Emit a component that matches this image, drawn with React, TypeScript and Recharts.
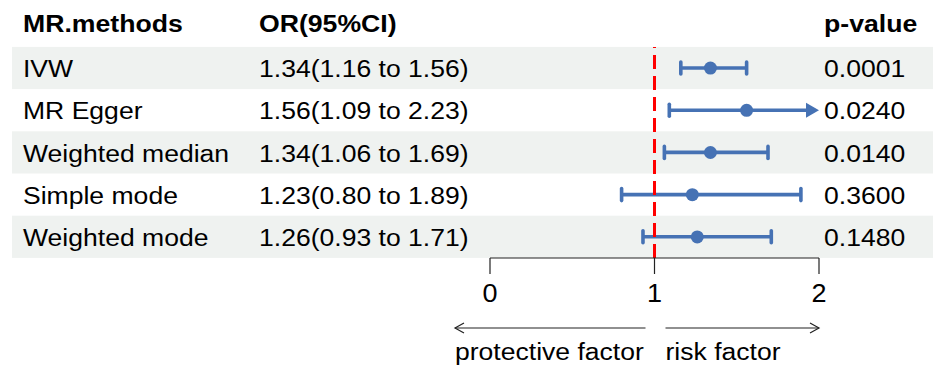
import React from 'react';
import { ComposedChart, XAxis, YAxis, Bar, Line, ReferenceLine } from 'recharts';

const methods = ['IVW', 'MR Egger', 'Weighted median', 'Simple mode', 'Weighted mode'];
const orValues = [1.34, 1.56, 1.34, 1.23, 1.26];
const lowerValues = [1.16, 1.09, 1.06, 0.8, 0.93];
const upperValues = [1.56, 2.23, 1.69, 1.89, 1.71];
const pValues = ['0.0001', '0.0240', '0.0140', '0.3600', '0.1480'];
const axisTicks = [0, 1, 2];
const headers = ['MR.methods', 'OR(95%CI)', 'p-value'];
const legendLabels = ['protective factor', 'risk factor'];

const AXIS_MIN = 0;
const AXIS_MAX = 2;
const W = 933;
const H = 366;
const M_TOP = 47;
const M_BOTTOM = 48;
const X_AXIS_H = 60;
const BAND = (H - M_TOP - M_BOTTOM - X_AXIS_H) / methods.length;
const BLUE = '#4672b4';
const SHADE = '#eff2f0';
const FONT = "'Liberation Sans', Arial, Helvetica, sans-serif";

const data = methods.map((m, i) => ({
  method: m,
  or: orValues[i],
  lower: lowerValues[i],
  upper: upperValues[i],
  ci: `${orValues[i].toFixed(2)}(${lowerValues[i].toFixed(2)} to ${upperValues[i].toFixed(2)})`,
  p: pValues[i],
}));

function SText({ x, y, children, size = 23.5, sx = 1.13, bold = false, anchor = 'start' }: any) {
  return (
    <text
      transform={`translate(${x},${y}) scale(${sx},1)`}
      x={0}
      y={0}
      fontSize={size}
      fontFamily={FONT}
      fontWeight={bold ? 'bold' : 'normal'}
      textAnchor={anchor}
      fill="#000"
    >
      {children}
    </text>
  );
}

const COL_X = [23, 259, 824];

function RowTick(props: any) {
  const { y, payload } = props;
  const i = methods.indexOf(payload.value);
  if (i < 0) return null;
  const d = data[i];
  const top = y - BAND / 2;
  return (
    <g>
      {i === 0 &&
        headers.map((h, k) => (
          <SText key={h} x={COL_X[k]} y={top - 15} size={24} sx={1.11} bold>
            {h}
          </SText>
        ))}
      <SText x={COL_X[0]} y={y + 9}>{d.method}</SText>
      <SText x={COL_X[1]} y={y + 9}>{d.ci}</SText>
      <SText x={COL_X[2]} y={y + 9}>{d.p}</SText>
    </g>
  );
}

function RowBackground(props: any) {
  const { y, height, index } = props;
  if (index % 2 !== 0) return <g key={`bg-${index}`} />;
  const cy = y + height / 2;
  return <rect key={`bg-${index}`} x={12} y={cy - BAND / 2} width={W - 12} height={BAND} fill={SHADE} />;
}

function XTick(props: any) {
  const { x, y, payload } = props;
  return (
    <SText x={x} y={y + 26} size={25} sx={1.08} anchor="middle">
      {payload.value}
    </SText>
  );
}

function LegendLabel(props: any) {
  const vb = props.viewBox || {};
  const x0 = vb.x;
  const x1 = vb.x + vb.width;
  const mid = (x0 + x1) / 2;
  const ay = vb.y + 70;
  const ty = vb.y + 102;
  const lx1 = x0 - 35;
  const lx2 = mid - 9;
  const rx1 = mid + 11;
  const rx2 = x1;
  const st = { stroke: '#222', strokeWidth: 1.2, fill: 'none' };
  return (
    <g>
      <line x1={lx1} y1={ay} x2={lx2} y2={ay} {...st} />
      <polyline points={`${lx1 + 9},${ay - 5} ${lx1},${ay} ${lx1 + 9},${ay + 5}`} {...st} />
      <line x1={rx1} y1={ay} x2={rx2} y2={ay} {...st} />
      <polyline points={`${rx2 - 9},${ay - 5} ${rx2},${ay} ${rx2 - 9},${ay + 5}`} {...st} />
      <SText x={lx1} y={ty}>{legendLabels[0]}</SText>
      <SText x={rx1} y={ty}>{legendLabels[1]}</SText>
    </g>
  );
}

function CIShape(props: any) {
  const { x, y, width, height, payload } = props;
  if (x == null || width == null) return null;
  const cy = y + height / 2;
  const xr = x + width;
  const truncated = payload.upper > AXIS_MAX;
  const sw = 3.6;
  return (
    <g>
      <line x1={x} y1={cy} x2={truncated ? xr - 10 : xr} y2={cy} stroke={BLUE} strokeWidth={sw} />
      <line x1={x} y1={y} x2={x} y2={y + height} stroke={BLUE} strokeWidth={sw} strokeLinecap="round" />
      {truncated ? (
        <polygon points={`${xr - 13},${cy - 7.5} ${xr},${cy} ${xr - 13},${cy + 7.5}`} fill={BLUE} />
      ) : (
        <line x1={xr} y1={y} x2={xr} y2={y + height} stroke={BLUE} strokeWidth={sw} strokeLinecap="round" />
      )}
    </g>
  );
}

export default function App() {
  return (
    <div style={{ position: 'absolute', left: 0, top: 0, width: W, height: H, background: '#fff' }}>
      <ComposedChart
        width={W}
        height={H}
        layout="vertical"
        data={data}
        margin={{ top: M_TOP, right: 114, bottom: M_BOTTOM, left: 12 }}
      >
        <YAxis
          type="category"
          dataKey="method"
          width={478}
          axisLine={false}
          tickLine={false}
          interval={0}
          tick={RowTick}
        />
        <XAxis
          type="number"
          domain={[AXIS_MIN, AXIS_MAX]}
          ticks={axisTicks}
          tickSize={16}
          height={X_AXIS_H}
          stroke="#222"
          axisLine={{ stroke: '#222', strokeWidth: 1.2 }}
          tickLine={{ stroke: '#222', strokeWidth: 1.2 }}
          tick={XTick}
          label={{ content: LegendLabel }}
        />
        <Bar
          dataKey={(d: any) => [d.lower, Math.min(d.upper, AXIS_MAX)]}
          barSize={12}
          shape={CIShape}
          background={RowBackground}
          isAnimationActive={false}
        />
        <ReferenceLine x={1} stroke="#ff0000" strokeWidth={3} strokeDasharray="14 7" />
        <Line
          dataKey="or"
          stroke="none"
          dot={{ r: 6.5, fill: BLUE, stroke: BLUE, strokeWidth: 0 }}
          activeDot={false}
          isAnimationActive={false}
        />
      </ComposedChart>
    </div>
  );
}
